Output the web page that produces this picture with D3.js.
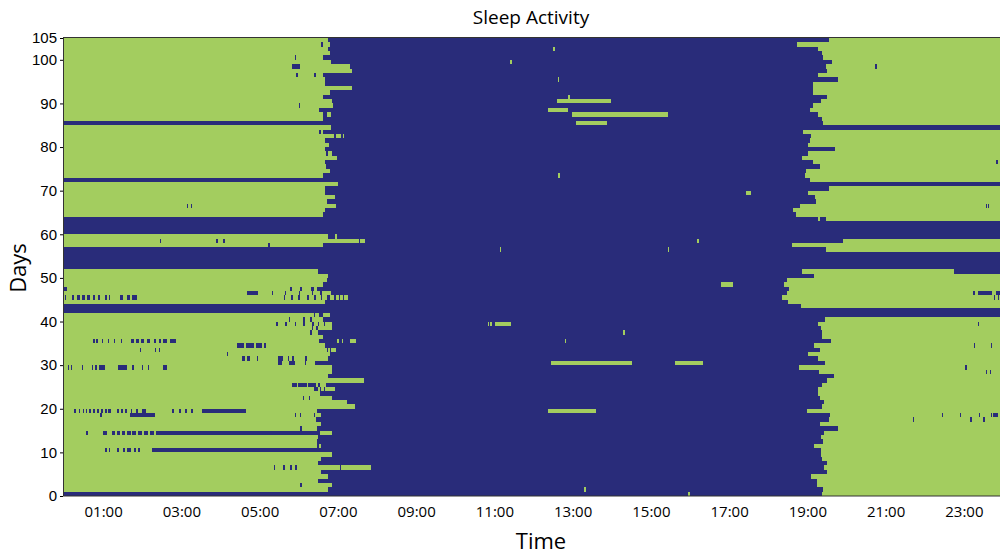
<!DOCTYPE html>
<html>
<head>
<meta charset="utf-8">
<script src="https://cdnjs.cloudflare.com/ajax/libs/d3/7.8.5/d3.min.js"></script>
<style>
  body { margin: 0; background: #fff; }
  .tick text { fill: #000; }
</style>
</head>
<body>
<div id="chart"></div>
<script>
// hour at which the morning sleep ends, one per day (null = no sleep that morning)
const wakeTime = [
  null, 6.76, 6.85, 6.49, 6.76, 6.58, 7.85, 6.49, 6.58, 6.85,
  6.51, 6.58, 6.47, 6.49, 6.85, 6.5, 6.58, 6.45, 6.58, 6.46,
  7.44, 7.23, 6.85, 6.55, 6.93, 6.7, 7.66, 6.76, 6.85, 6.85,
  6.47, 6.76, 6.79, 6.79, 6.68, 6.53, 6.63, 6.5, 6.85, 6.85,
  6.63, 6.79, null, null, 6.68, 7.27, 6.83, 6.46, 6.63, 6.72,
  6.76, 6.49, null, null, null, null, null, 6.62, 7.7, 6.76,
  null, null, null, null, 6.62, 6.68, 6.94, 6.72, 6.92, 6.68,
  6.68, 7.0, null, 6.63, 6.8, 6.7, 6.68, 6.97, 6.85, 6.68,
  6.78, 6.68, 6.89, 6.63, 6.82, null, 6.63, 6.63, 6.53, 6.87,
  6.85, 6.62, 6.8, 7.37, 6.66, 6.68, 6.63, 7.37, 7.32, 6.83,
  6.62, 6.8, 6.74, 6.8, 6.76
];

// hour at which the evening sleep starts, one per day (null = no sleep that evening)
const bedTime = [
  19.38, 19.41, 19.24, 19.24, 19.08, 19.51, 19.43, 19.51, 19.37, 19.36,
  19.34, 19.17, 19.41, 19.34, 19.43, 19.77, 19.31, 19.55, 19.58, 18.98,
  19.38, 19.43, 19.32, 19.26, 19.28, 19.38, 19.49, 19.68, 19.3, 18.78,
  19.44, 19.26, 19.02, 19.32, 19.17, 19.6, 19.38, 19.38, 19.34, 19.26,
  19.45, null, null, 18.83, 18.5, 18.34, 18.47, 18.53, 18.4, 18.49,
  19.17, 18.85, null, null, null, null, 19.47, 18.6, 19.9, null,
  null, null, null, 19.47, 18.7, 18.63, 18.8, 19.23, 19.2, 19.02,
  19.54, null, 19.07, 18.93, 18.96, 19.31, 19.15, 18.87, 19.02, 19.7,
  19.02, 19.06, 19.08, 18.89, null, 19.4, 19.37, 19.28, 19.07, 19.15,
  19.34, 19.51, 19.15, 19.15, 19.15, 19.77, 19.28, 19.51, 19.47, 19.62,
  19.41, 19.38, 19.28, 18.73, 19.55
];

// short awake spells inside the sleep blocks: [day, start hour, end hour]
const awakeBits = [
  [103, 6.58, 6.62], [100, 5.9, 5.93], [98, 5.84, 6.03], [98, 20.72, 20.77],
  [96, 5.94, 5.97], [96, 6.38, 6.45], [89, 6.01, 6.04], [83, 6.52, 6.57],
  [78, 6.7, 6.75], [76, 23.82, 23.86], [66, 3.15, 3.18], [66, 3.25, 3.28],
  [66, 23.56, 23.59], [66, 23.62, 23.64],
  [58, 2.46, 2.49], [58, 3.89, 3.94], [58, 4.07, 4.12], [58, 7.53, 7.56], [57, 5.22, 5.27],
  [51, 22.75, 24],
  [47, 0, 0.07], [47, 5.78, 5.82], [47, 6.04, 6.08], [47, 6.31, 6.4],
  [46, 4.68, 4.96], [46, 5.31, 5.34], [46, 5.64, 5.67], [46, 6.0, 6.03], [46, 6.33, 6.36], [46, 6.55, 6.6],
  [46, 23.23, 23.28], [46, 23.35, 23.73], [46, 23.82, 23.93],
  [45, 0.02, 0.06], [45, 0.2, 0.26], [45, 0.33, 0.4], [45, 0.47, 0.53], [45, 0.6, 0.66],
  [45, 0.73, 0.8], [45, 0.87, 0.93], [45, 1.06, 1.1], [45, 1.14, 1.18], [45, 1.42, 1.52],
  [45, 1.6, 1.68], [45, 1.74, 1.86], [45, 5.62, 5.66], [45, 5.8, 5.86], [45, 5.98, 6.02],
  [45, 6.2, 6.25], [45, 6.4, 6.45], [45, 6.56, 6.6], [45, 6.72, 6.8], [45, 6.9, 6.95],
  [45, 7.02, 7.05], [45, 7.12, 7.15], [45, 23.76, 23.78], [45, 23.86, 23.9],
  [41, 6.38, 6.42], [41, 6.51, 6.63],
  [40, 5.74, 5.78], [40, 6.12, 6.17], [40, 6.29, 6.34],
  [39, 5.42, 5.46], [39, 5.65, 5.7], [39, 5.9, 5.93], [39, 6.1, 6.16], [39, 6.35, 6.38],
  [39, 6.5, 6.53], [39, 6.65, 6.68], [39, 23.35, 23.38],
  [38, 6.33, 6.37], [38, 6.45, 6.49], [37, 6.3, 6.35],
  [35, 0.73, 0.78], [35, 0.82, 0.86], [35, 0.97, 1.0], [35, 1.12, 1.15], [35, 1.28, 1.31],
  [35, 1.45, 1.48], [35, 1.7, 1.78], [35, 1.84, 1.92], [35, 1.98, 2.05], [35, 2.12, 2.2],
  [35, 2.3, 2.36], [35, 2.42, 2.48], [35, 2.52, 2.64], [35, 2.7, 2.87],
  [34, 4.42, 4.6], [34, 4.65, 4.85], [34, 4.9, 5.05], [34, 5.12, 5.16],
  [34, 23.26, 23.29], [34, 23.69, 23.71],
  [33, 1.94, 1.97], [33, 2.32, 2.35], [33, 2.43, 2.46], [33, 6.72, 6.76], [32, 4.16, 4.19],
  [31, 4.55, 4.62], [31, 4.68, 4.76], [31, 4.93, 4.96], [31, 5.46, 5.61], [31, 5.72, 5.76],
  [31, 5.82, 5.87], [31, 6.17, 6.21],
  [30, 5.48, 5.57], [30, 5.74, 5.91], [30, 6.15, 6.18], [30, 6.42, 6.51],
  [29, 0.1, 0.14], [29, 0.17, 0.2], [29, 0.45, 0.48], [29, 0.71, 0.75], [29, 0.8, 0.84],
  [29, 0.9, 1.05], [29, 1.38, 1.6], [29, 1.75, 1.79], [29, 2.0, 2.03], [29, 2.15, 2.18],
  [29, 2.53, 2.63], [29, 23.02, 23.07], [28, 23.56, 23.6], [28, 23.66, 23.7],
  [25, 5.84, 5.95], [25, 5.98, 6.2], [25, 6.23, 6.45], [25, 6.48, 6.55],
  [24, 6.38, 6.5], [24, 6.55, 6.58], [24, 6.64, 6.67], [22, 6.1, 6.14], [22, 6.25, 6.29],
  [19, 0.25, 0.3], [19, 0.38, 0.42], [19, 0.48, 0.5], [19, 0.55, 0.6], [19, 0.65, 0.68],
  [19, 0.75, 0.8], [19, 0.85, 0.9], [19, 0.95, 1.0], [19, 1.05, 1.1], [19, 1.12, 1.2],
  [19, 1.35, 1.4], [19, 1.45, 1.5], [19, 1.55, 1.62], [19, 1.7, 1.75], [19, 1.85, 1.9],
  [19, 2.0, 2.1], [19, 2.76, 2.82], [19, 2.95, 3.0], [19, 3.1, 3.15], [19, 3.24, 3.3],
  [19, 3.53, 4.66],
  [18, 0.92, 0.96], [18, 1.69, 2.33], [18, 5.9, 5.93], [18, 6.03, 6.06], [18, 6.38, 6.41],
  [18, 22.43, 22.45], [18, 22.9, 22.92], [18, 23.38, 23.42], [18, 23.69, 23.72], [18, 23.75, 23.86],
  [17, 21.7, 21.73], [17, 23.16, 23.22], [17, 23.5, 23.53],
  [15, 6.04, 6.08], [15, 6.46, 6.5],
  [14, 0.56, 0.62], [14, 1.0, 1.09], [14, 1.22, 1.3], [14, 1.35, 1.42], [14, 1.47, 1.55],
  [14, 1.6, 1.7], [14, 1.75, 1.85], [14, 1.9, 2.0], [14, 2.05, 2.15], [14, 2.2, 2.3],
  [14, 2.35, 6.55],
  [11, 6.46, 6.53],
  [10, 1.05, 1.09], [10, 1.15, 1.18], [10, 1.35, 1.4], [10, 1.5, 1.56], [10, 1.62, 1.7],
  [10, 1.78, 1.85], [10, 1.88, 1.94], [10, 2.24, 6.51],
  [6, 5.36, 5.4], [6, 5.6, 5.65], [6, 5.78, 5.82], [6, 5.91, 5.95], [6, 7.06, 7.09],
  [2, 6.04, 6.08]
];

// short sleep spells inside the awake hours: [day, start hour, end hour]
const sleepBits = [
  [102, 12.5, 12.55], [99, 11.4, 11.45], [95, 12.62, 12.65], [91, 12.89, 12.94],
  [90, 12.6, 13.97], [88, 12.38, 12.87], [87, 12.99, 15.43], [85, 13.09, 13.87],
  [87, 6.72, 6.82], [82, 6.95, 7.09], [82, 7.12, 7.16],
  [73, 12.63, 12.67], [69, 17.42, 17.57], [63, 19.28, 19.33], [59, 6.93, 6.98],
  [58, 16.17, 16.24], [56, 11.15, 11.18], [56, 15.43, 15.47], [48, 16.79, 17.1],
  [39, 10.84, 10.87], [39, 10.9, 10.95], [39, 11.01, 11.43], [37, 14.29, 14.33],
  [35, 12.81, 12.84], [35, 6.97, 7.03], [35, 7.1, 7.13], [35, 7.3, 7.47], [33, 6.83, 6.96],
  [30, 12.46, 14.51], [30, 15.61, 16.33], [19, 12.38, 13.46], [19, 13.48, 13.6],
  [1, 13.3, 13.33], [0, 15.96, 15.99]
];

const yTicks = [0, 10, 20, 30, 40, 50, 60, 70, 80, 90, 100, 105];
const xTicks = [1, 3, 5, 7, 9, 11, 13, 15, 17, 19, 21, 23];

const width = 1000, height = 554;
const sleepColor = "#a3cd5f", awakeColor = "#292c7a";

const svg = d3.select("#chart").append("svg")
    .attr("width", width)
    .attr("height", height);

const x = d3.scaleLinear().domain([0, 24]).range([64, 1003]);
const y = d3.scaleLinear().domain([0, 105]).range([496, 38]);

const plot = svg.append("g").attr("shape-rendering", "crispEdges");

// awake background
plot.append("rect")
    .attr("x", x(0)).attr("y", y(105))
    .attr("width", x(24) - x(0)).attr("height", y(0) - y(105))
    .attr("fill", awakeColor);

const days = d3.range(wakeTime.length);

// morning sleep
plot.selectAll("rect.wake")
    .data(days.filter(d => wakeTime[d] != null))
    .join("rect")
    .attr("class", "wake")
    .attr("x", x(0))
    .attr("y", d => y(d + 1))
    .attr("width", d => x(wakeTime[d]) - x(0))
    .attr("height", d => y(d) - y(d + 1))
    .attr("fill", sleepColor);

// evening sleep
plot.selectAll("rect.bed")
    .data(days.filter(d => bedTime[d] != null))
    .join("rect")
    .attr("class", "bed")
    .attr("x", d => x(bedTime[d]))
    .attr("y", d => y(d + 1))
    .attr("width", d => x(24) - x(bedTime[d]))
    .attr("height", d => y(d) - y(d + 1))
    .attr("fill", sleepColor);

plot.selectAll("rect.nap")
    .data(sleepBits)
    .join("rect")
    .attr("class", "nap")
    .attr("x", d => x(d[1]))
    .attr("y", d => y(d[0] + 1))
    .attr("width", d => Math.max(1, x(d[2]) - x(d[1])))
    .attr("height", d => y(d[0]) - y(d[0] + 1))
    .attr("fill", sleepColor);

plot.selectAll("rect.up")
    .data(awakeBits)
    .join("rect")
    .attr("class", "up")
    .attr("x", d => x(d[1]))
    .attr("y", d => y(d[0] + 1))
    .attr("width", d => Math.max(1, x(d[2]) - x(d[1])))
    .attr("height", d => y(d[0]) - y(d[0] + 1))
    .attr("fill", awakeColor);

// frame
svg.append("rect")
    .attr("x", 63.5).attr("y", 37.5)
    .attr("width", 940).attr("height", y(0) - 37.5)
    .attr("fill", "none")
    .attr("stroke", "#333")
    .attr("stroke-width", 1);

// axes
const yAxis = svg.append("g")
    .attr("transform", "translate(63,0)")
    .call(d3.axisLeft(y).tickValues(yTicks).tickSize(3).tickSizeOuter(0).tickPadding(3));
yAxis.selectAll("text")
    .style("font-family", "'Liberation Sans', Arial, sans-serif")
    .style("font-size", "15px");
yAxis.select(".domain").remove();

const xAxis = svg.append("g")
    .attr("transform", `translate(0,${y(0)})`)
    .call(d3.axisBottom(x).tickValues(xTicks).tickSize(0).tickPadding(10)
        .tickFormat(h => d3.format("02d")(h) + ":00"));
xAxis.selectAll("text")
    .style("font-family", "'Open Sans', sans-serif")
    .style("font-size", "15px");
xAxis.select(".domain").remove();

// titles
svg.append("text")
    .attr("x", 531).attr("y", 24)
    .attr("text-anchor", "middle")
    .style("font-family", "'Open Sans', sans-serif")
    .style("font-size", "19px")
    .text("Sleep Activity");

svg.append("text")
    .attr("x", 541).attr("y", 549)
    .attr("text-anchor", "middle")
    .style("font-family", "'Open Sans', sans-serif")
    .style("font-size", "22px")
    .text("Time");

svg.append("text")
    .attr("transform", "translate(26,268) rotate(-90)")
    .attr("text-anchor", "middle")
    .style("font-family", "'Open Sans', sans-serif")
    .style("font-size", "22px")
    .text("Days");
</script>
</body>
</html>
